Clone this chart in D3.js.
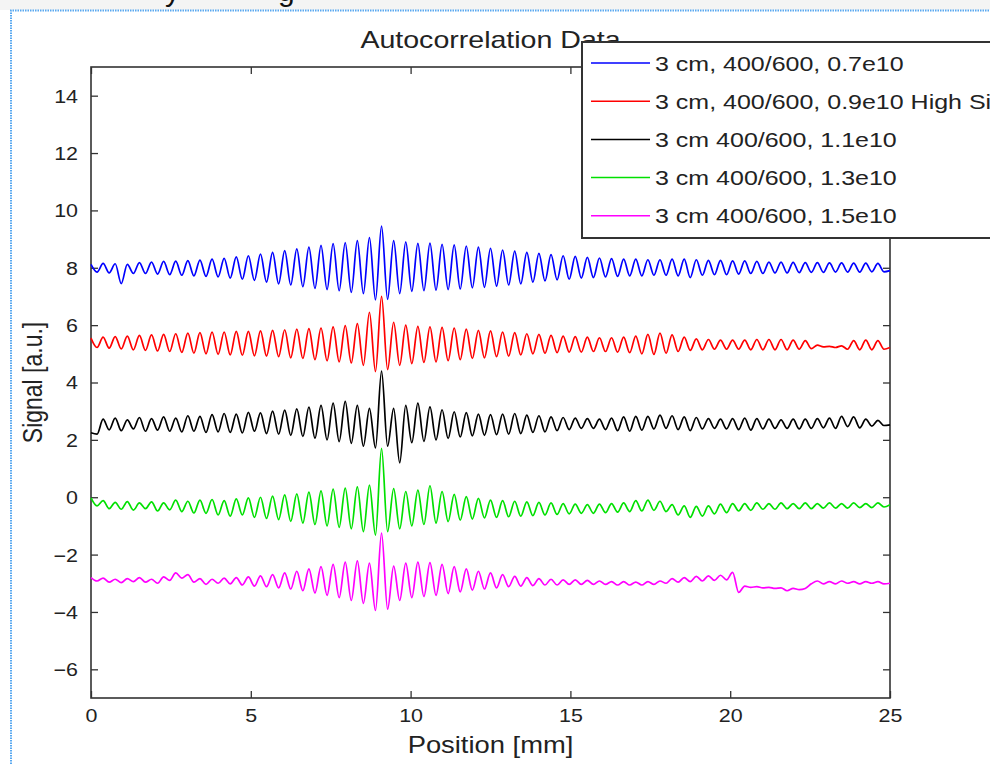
<!DOCTYPE html>
<html>
<head>
<meta charset="utf-8">
<script src="https://cdn.jsdelivr.net/npm/d3@7"></script>
<style>
  body { margin: 0; background: #fff; }
  svg { display: block; font-family: "Liberation Sans", Arial, sans-serif; }
</style>
</head>
<body>
<script>
// autocorrelation traces, read off the picture as alternating peak / trough values
// sampled on an even grid from 0 to 25 mm (133 points each)
var xMax = 25;
var xTicks = [0, 5, 10, 15, 20, 25];
var yTicks = [-6, -4, -2, 0, 2, 4, 6, 8, 10, 12, 14];

var labels = ["3 cm, 400/600, 0.7e10", "3 cm, 400/600, 0.9e10 High Si",
              "3 cm 400/600, 1.1e10", "3 cm 400/600, 1.3e10", "3 cm 400/600, 1.5e10"];
var colors = ["#0000ff", "#ff0000", "#000000", "#00e000", "#ff00ff"];

var blue = [
  8.12, 7.85, 8.15, 7.82, 8.14, 7.45, 8.12, 7.8, 8.18, 7.8,
  8.2, 7.78, 8.22, 7.76, 8.23, 7.74, 8.25, 7.72, 8.27, 7.7,
  8.3, 7.68, 8.33, 7.64, 8.38, 7.6, 8.42, 7.56, 8.48, 7.5,
  8.54, 7.44, 8.6, 7.4, 8.66, 7.34, 8.72, 7.28, 8.78, 7.24,
  8.84, 7.2, 8.88, 7.14, 8.95, 7.1, 9.05, 6.88, 9.45, 6.9,
  8.95, 7.1, 8.9, 7.18, 8.85, 7.2, 8.86, 7.22, 8.82, 7.24,
  8.8, 7.26, 8.76, 7.3, 8.72, 7.32, 8.68, 7.36, 8.62, 7.4,
  8.58, 7.44, 8.54, 7.5, 8.5, 7.54, 8.46, 7.58, 8.42, 7.6,
  8.4, 7.64, 8.36, 7.66, 8.34, 7.68, 8.32, 7.7, 8.3, 7.72,
  8.3, 7.72, 8.28, 7.74, 8.28, 7.74, 8.3, 7.72, 8.3, 7.66,
  8.28, 7.74, 8.26, 7.76, 8.26, 7.76, 8.24, 7.78, 8.24, 7.8,
  8.22, 7.8, 8.2, 7.82, 8.2, 7.82, 8.19, 7.83, 8.18, 7.84,
  8.18, 7.84, 8.17, 7.85, 8.17, 7.85, 8.16, 7.85, 8.16, 7.86,
  8.15, 7.86, 7.9];

var red = [
  5.55, 5.22, 5.58, 5.2, 5.6, 5.17, 5.62, 5.14, 5.64, 5.12,
  5.66, 5.1, 5.68, 5.08, 5.7, 5.05, 5.72, 5.02, 5.74, 5.0,
  5.76, 4.98, 5.76, 4.96, 5.78, 4.95, 5.78, 4.93, 5.8, 4.92,
  5.82, 4.9, 5.84, 4.86, 5.86, 4.84, 5.88, 4.8, 5.9, 4.76,
  5.94, 4.72, 5.98, 4.68, 6.05, 4.6, 6.45, 4.38, 7.0, 4.45,
  6.1, 4.6, 6.0, 4.66, 5.96, 4.7, 5.94, 4.72, 5.92, 4.76,
  5.9, 4.8, 5.86, 4.84, 5.82, 4.86, 5.8, 4.9, 5.76, 4.92,
  5.74, 4.96, 5.7, 5.0, 5.68, 5.02, 5.64, 5.04, 5.62, 5.06,
  5.6, 5.06, 5.58, 5.08, 5.56, 5.08, 5.56, 5.06, 5.58, 5.04,
  5.62, 5.0, 5.68, 4.98, 5.72, 5.02, 5.66, 5.08, 5.58, 5.12,
  5.52, 5.14, 5.5, 5.16, 5.48, 5.16, 5.48, 5.16, 5.48, 5.14,
  5.5, 5.14, 5.5, 5.14, 5.5, 5.14, 5.48, 5.16, 5.46, 5.18,
  5.3, 5.24, 5.26, 5.22, 5.28, 5.16, 5.46, 5.14, 5.48, 5.14,
  5.46, 5.16, 5.22];

var black = [
  2.25, 2.2, 2.72, 2.35, 2.76, 2.32, 2.7, 2.38, 2.78, 2.3,
  2.74, 2.34, 2.8, 2.3, 2.76, 2.28, 2.84, 2.3, 2.82, 2.26,
  2.88, 2.28, 2.92, 2.26, 2.9, 2.24, 2.96, 2.3, 2.94, 2.22,
  3.0, 2.2, 3.04, 2.16, 3.08, 2.12, 3.14, 2.06, 3.2, 2.0,
  3.28, 1.94, 3.34, 1.88, 3.2, 1.78, 3.1, 1.72, 4.4, 1.78,
  3.1, 1.2, 3.2, 1.9, 3.28, 1.95, 3.15, 2.0, 3.05, 2.05,
  2.98, 2.1, 2.95, 2.14, 2.9, 2.16, 2.88, 2.18, 2.9, 2.2,
  2.92, 2.22, 2.86, 2.26, 2.84, 2.28, 2.8, 2.32, 2.78, 2.36,
  2.76, 2.4, 2.74, 2.4, 2.72, 2.36, 2.76, 2.32, 2.8, 2.3,
  2.82, 2.34, 2.82, 2.38, 2.86, 2.4, 2.84, 2.36, 2.8, 2.32,
  2.78, 2.38, 2.74, 2.4, 2.72, 2.38, 2.74, 2.36, 2.76, 2.34,
  2.74, 2.38, 2.72, 2.4, 2.7, 2.4, 2.72, 2.38, 2.72, 2.4,
  2.74, 2.42, 2.76, 2.4, 2.82, 2.46, 2.8, 2.42, 2.72, 2.48,
  2.68, 2.5, 2.52];

var green = [
  -0.02, -0.3, -0.12, -0.4, -0.18, -0.42, -0.15, -0.45, -0.2, -0.4,
  -0.16, -0.48, -0.2, -0.44, -0.1, -0.5, -0.14, -0.55, -0.1, -0.56,
  -0.08, -0.62, -0.12, -0.66, -0.06, -0.62, -0.02, -0.7, 0.0, -0.74,
  0.04, -0.78, 0.08, -0.84, 0.12, -0.9, 0.18, -0.95, 0.22, -1.0,
  0.28, -1.05, 0.32, -1.1, 0.36, -1.2, 0.42, -1.32, 1.7, -1.2,
  0.3, -1.1, 0.2, -1.0, 0.25, -0.95, 0.4, -0.9, 0.2, -0.85,
  0.1, -0.8, 0.02, -0.76, -0.04, -0.72, -0.1, -0.7, -0.12, -0.68,
  -0.14, -0.66, -0.16, -0.64, -0.18, -0.62, -0.2, -0.6, -0.22, -0.58,
  -0.24, -0.56, -0.26, -0.56, -0.24, -0.54, -0.22, -0.52, -0.2, -0.5,
  -0.12, -0.48, -0.1, -0.46, -0.14, -0.5, -0.26, -0.62, -0.3, -0.7,
  -0.32, -0.66, -0.3, -0.58, -0.24, -0.54, -0.22, -0.48, -0.22, -0.46,
  -0.2, -0.42, -0.22, -0.42, -0.2, -0.4, -0.22, -0.4, -0.2, -0.4,
  -0.22, -0.38, -0.2, -0.38, -0.22, -0.38, -0.2, -0.36, -0.22, -0.36,
  -0.2, -0.34, -0.26];

var magenta = [
  -2.8, -2.92, -2.82, -2.96, -2.86, -2.98, -2.84, -2.94, -2.8, -2.96,
  -2.86, -3.0, -2.78, -2.9, -2.64, -2.82, -2.7, -2.96, -2.84, -3.04,
  -2.86, -3.0, -2.82, -3.02, -2.8, -3.06, -2.78, -3.1, -2.74, -3.12,
  -2.7, -3.16, -2.64, -3.2, -2.58, -3.26, -2.5, -3.34, -2.42, -3.42,
  -2.34, -3.5, -2.26, -3.6, -2.22, -3.7, -2.3, -3.95, -1.25, -3.9,
  -2.4, -3.6, -2.3, -3.5, -2.26, -3.46, -2.28, -3.42, -2.34, -3.36,
  -2.42, -3.3, -2.5, -3.24, -2.58, -3.2, -2.64, -3.16, -2.7, -3.12,
  -2.76, -3.1, -2.8, -3.08, -2.84, -3.06, -2.86, -3.06, -2.88, -3.04,
  -2.88, -3.04, -2.9, -3.04, -2.92, -3.04, -2.94, -3.06, -2.94, -3.06,
  -2.96, -3.06, -2.94, -3.04, -2.92, -3.0, -2.84, -2.96, -2.8, -2.94,
  -2.76, -2.92, -2.74, -2.9, -2.72, -2.88, -2.62, -3.32, -3.1, -3.14,
  -3.12, -3.16, -3.14, -3.18, -3.16, -3.26, -3.18, -3.22, -3.18, -3.02,
  -2.92, -3.02, -2.94, -3.02, -2.92, -3.0, -2.94, -3.02, -2.94, -3.0,
  -2.94, -3.02, -3.0];

var series = [blue, red, black, green, magenta];

// the screenshot is stretched a bit sideways, so the text is too
var stretch = 1.19;

var W = 990, H = 764;
var margin = {left: 91, right: 100, top: 67, bottom: 66};

var svg = d3.select("body").append("svg")
    .attr("width", W)
    .attr("height", H);

// bits of the window around the figure (a title above, cut by the top edge)
svg.append("rect").attr("x", 0).attr("y", 0).attr("width", W).attr("height", 10).attr("fill", "#f4f4f4");
svg.append("text").attr("x", 165).attr("y", 1).attr("font-size", 30).attr("fill", "#111").text("y");
svg.append("text").attr("x", 278).attr("y", 1).attr("font-size", 30).attr("fill", "#111").text("g");
svg.append("path")
    .attr("d", "M11,764 V10.5 H990")
    .attr("fill", "none")
    .attr("stroke", "#58a8f0")
    .attr("stroke-width", 2)
    .attr("stroke-dasharray", "1.5,1");

var xScale = d3.scaleLinear().domain([0, xMax]).range([margin.left, W - margin.right]);
var yScale = d3.scaleLinear().domain([-7, 15]).range([H - margin.bottom, margin.top]);

function stretchText(sel) {
  sel.selectAll("text").each(function() {
    var t = d3.select(this);
    var x = +t.attr("x") || 0, y = +t.attr("y") || 0;
    t.attr("transform", "translate(" + x + "," + y + ") scale(" + stretch + ",1)")
     .attr("x", 0).attr("y", 0);
  });
}

// axes, MATLAB style: ticks pointing inwards on all four sides
var gx = svg.append("g")
    .attr("transform", "translate(0," + yScale(-7) + ")")
    .call(d3.axisBottom(xScale).tickValues(xTicks).tickSizeInner(-7).tickSizeOuter(0).tickPadding(11));
var gy = svg.append("g")
    .attr("transform", "translate(" + xScale(0) + ",0)")
    .call(d3.axisLeft(yScale).tickValues(yTicks).tickSizeInner(-7).tickSizeOuter(0).tickPadding(13));
svg.append("g")
    .attr("transform", "translate(" + xScale(xMax) + ",0)")
    .call(d3.axisRight(yScale).tickValues(yTicks).tickSizeInner(-7).tickSizeOuter(0).tickFormat(""));
svg.append("g")
    .attr("transform", "translate(0," + yScale(15) + ")")
    .call(d3.axisTop(xScale).tickValues(xTicks).tickSizeInner(-7).tickSizeOuter(0).tickFormat(""));

svg.selectAll(".domain").remove();
svg.selectAll(".tick line").attr("stroke", "#333").attr("stroke-width", 1.3);
[gx, gy].forEach(function(g) {
  g.selectAll("text").attr("font-size", 18).attr("fill", "#222")
   .attr("font-family", "Liberation Sans, Arial, sans-serif");
  stretchText(g);
});
gy.selectAll("text").attr("dy", "0.36em");

svg.append("rect")
    .attr("x", xScale(0)).attr("y", yScale(15))
    .attr("width", xScale(xMax) - xScale(0))
    .attr("height", yScale(-7) - yScale(15))
    .attr("fill", "none").attr("stroke", "#333").attr("stroke-width", 1.6);

// the traces
var line = d3.line()
    .x(function(d, i) { return xScale(i * xMax / (d.n - 1)); })
    .y(function(d) { return yScale(d.v); })
    .curve(d3.curveMonotoneX);

series.forEach(function(s, k) {
  var pts = s.map(function(v) { return {v: v, n: s.length}; });
  svg.append("path")
      .datum(pts)
      .attr("d", line)
      .attr("fill", "none")
      .attr("stroke", colors[k])
      .attr("stroke-width", 1.7)
      .attr("stroke-linejoin", "round");
});

// labels
svg.append("text")
    .attr("transform", "translate(" + ((xScale(0) + xScale(xMax)) / 2) + ",48) scale(" + stretch + ",1)")
    .attr("text-anchor", "middle").attr("font-size", 24).attr("fill", "#222")
    .text("Autocorrelation Data");

svg.append("text")
    .attr("transform", "translate(" + ((xScale(0) + xScale(xMax)) / 2) + ",753) scale(" + stretch + ",1)")
    .attr("text-anchor", "middle").attr("font-size", 23).attr("fill", "#222")
    .text("Position [mm]");

svg.append("text")
    .attr("transform", "translate(42," + yScale(4) + ") scale(" + stretch + ",1) rotate(-90)")
    .attr("text-anchor", "middle").attr("font-size", 23).attr("fill", "#222")
    .text("Signal [a.u.]");

// legend, runs off the right edge like in the screenshot
var legend = svg.append("g");
legend.append("rect")
    .attr("x", 582).attr("y", 42).attr("width", 480).attr("height", 196)
    .attr("fill", "#fff").attr("stroke", "#333").attr("stroke-width", 2);

labels.forEach(function(lab, k) {
  var cy = 63 + k * 38.2;
  legend.append("line")
      .attr("x1", 591).attr("x2", 650).attr("y1", cy).attr("y2", cy)
      .attr("stroke", colors[k]).attr("stroke-width", 1.5);
  legend.append("text")
      .attr("transform", "translate(655," + (cy + 7.5) + ") scale(" + stretch + ",1)")
      .attr("font-size", 21).attr("fill", "#222")
      .text(lab);
});
</script>
</body>
</html>
